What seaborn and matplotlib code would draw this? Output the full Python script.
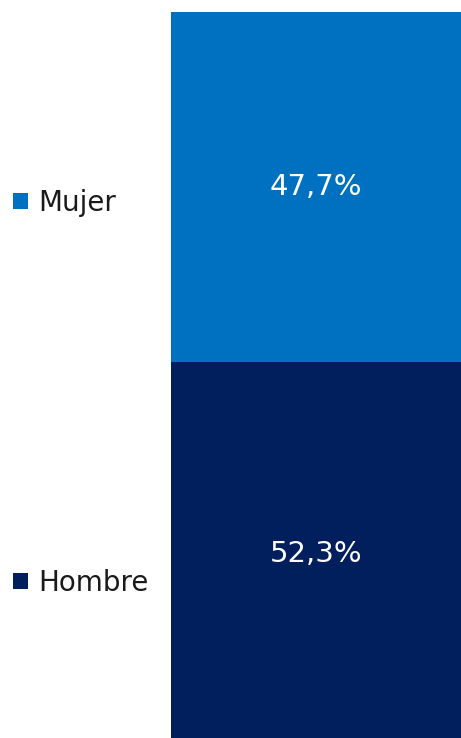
import matplotlib
matplotlib.use("Agg")
import matplotlib.pyplot as plt
import seaborn as sns
import pandas as pd
from matplotlib.patches import Patch

series = ["Mujer", "Hombre"]
values = [47.7, 52.3]
labels = ["47,7%", "52,3%"]
colors = ["#0070C0", "#001F5C"]
category = ["Total"]

sns.set_theme(style="white")
plt.rcParams['font.family'] = ['DejaVu Sans']

W, H = 461, 738
fig = plt.figure(figsize=(W / 100, H / 100), dpi=100)
top_px, bot_px, left_px, right_px = 12, 746, 171, 461
ax = fig.add_axes([left_px / W, 1 - bot_px / H, (right_px - left_px) / W, (bot_px - top_px) / H])

total = values[0] + values[1]
df_top = pd.DataFrame({"cat": category, "val": [total]})
df_bot = pd.DataFrame({"cat": category, "val": [values[1]]})
sns.barplot(data=df_top, x="cat", y="val", color=colors[0], width=1, saturation=1, ax=ax)
sns.barplot(data=df_bot, x="cat", y="val", color=colors[1], width=1, saturation=1, ax=ax)
for p in ax.patches:
    p.set_edgecolor("none")
    p.set_linewidth(0)

ax.set_xlim(-0.5, 0.5)
ax.set_ylim(0, total)
ax.axis("off")

ax.text(0, values[1] + values[0] / 2, labels[0], ha="center", va="center", color="white", fontsize=21)
ax.text(0, values[1] / 2, labels[1], ha="center", va="center", color="white", fontsize=21)

# legend entries
for name, col, ypx in [(series[0], colors[0], 203), (series[1], colors[1], 583)]:
    leg = fig.legend(handles=[Patch(facecolor=col, edgecolor="none", label=name)],
                     loc="center left", bbox_to_anchor=(13 / W, 1 - ypx / H),
                     frameon=False, fontsize=20, handlelength=0.54, handleheight=0.54,
                     handletextpad=0.36, borderaxespad=0, borderpad=0, labelcolor="#1a1a1a")

fig.savefig("out.png", dpi=100)
